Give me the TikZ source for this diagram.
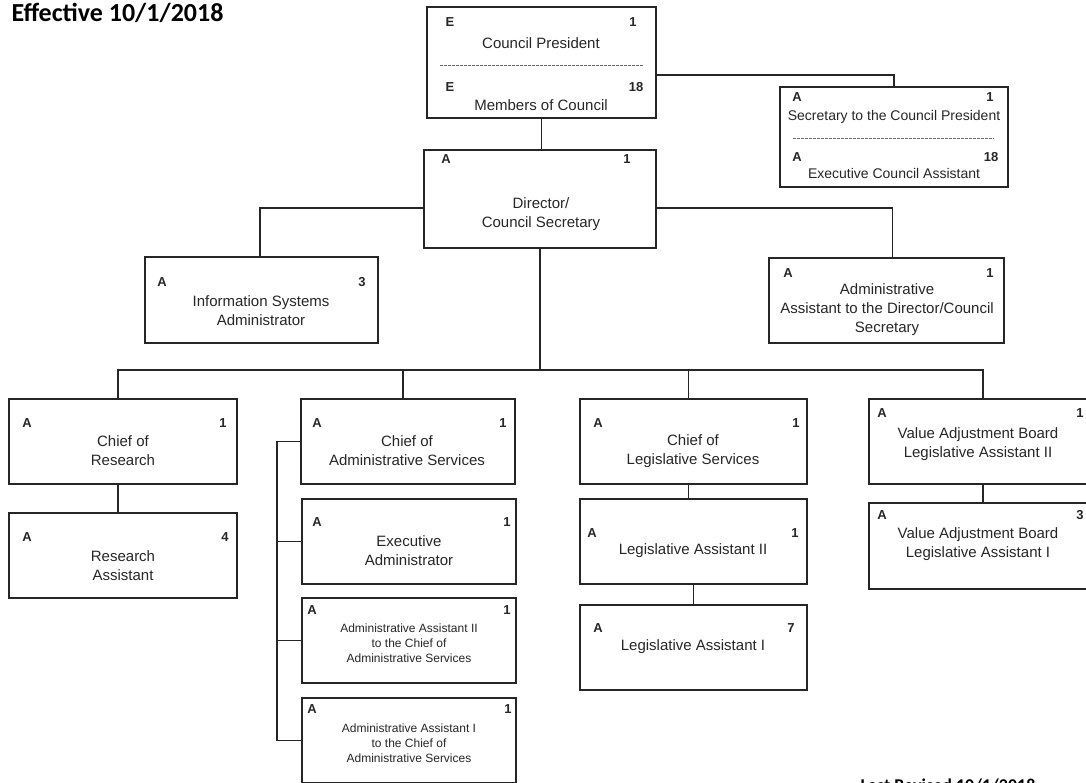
\documentclass[tikz,border=0pt]{standalone}
\usepackage{fontspec}
\setmainfont{Liberation Sans}
\newfontfamily\headfont{Carlito}

\begin{document}
\begin{tikzpicture}[x=1pt,y=-1pt,
    post/.style={draw=black!85,line width=1.3pt,inner sep=0pt},
    grade/.style={font=\bfseries\fontsize{13}{13}\selectfont,text=black!85,inner sep=0pt},
    title/.style={align=center,font=\fontsize{15}{19}\selectfont,text=black!85,inner sep=0pt},
    small/.style={align=center,font=\fontsize{12}{15}\selectfont,text=black!85,inner sep=0pt},
    link/.style={draw=black!85,line width=1.2pt},
    rule/.style={draw=black!60,line width=0.8pt,dash pattern=on 3pt off 1pt}]

    \useasboundingbox (0,0) rectangle (1086,783);

    \node[anchor=base west,font=\headfont\bfseries\fontsize{26}{26}\selectfont] (eff) at (8,22) {Effective 10/1/2018};
    \node[anchor=base west,font=\headfont\bfseries\fontsize{18}{18}\selectfont] (rev) at (857,791) {Last Revised 10/1/2018};

    % council
    \node[post,minimum width=229pt,minimum height=111pt] (pres) at (541.5,62.5) {};
    \node[grade] (pres-g) at (450,22) {E};
    \node[grade] (pres-n) at (633,22) {1};
    \node[title] (pres-t) at (541,43) {Council President};
    \draw[rule] (440,65) -- (643,65);
    \node[grade] (mem-g) at (450,87) {E};
    \node[grade] (mem-n) at (636,87) {18};
    \node[title] (mem-t) at (541,105) {Members of Council};

    \node[post,minimum width=228pt,minimum height=100pt] (sec) at (894,137) {};
    \node[grade] (sec-g) at (797,97) {A};
    \node[grade] (sec-n) at (990,97) {1};
    \node[title,font=\fontsize{14}{17}\selectfont] (sec-t) at (894,117) {Secretary to the Council President};
    \draw[rule] (793,138) -- (994,138);
    \node[grade] (eca-g) at (797,157) {A};
    \node[grade] (eca-n) at (991,157) {18};
    \node[title,font=\fontsize{14}{17}\selectfont] (eca-t) at (894,173) {Executive Council Assistant};

    % director
    \node[post,minimum width=232pt,minimum height=98pt] (dir) at (540,199) {};
    \node[grade] (dir-g) at (446,159) {A};
    \node[grade] (dir-n) at (627,159) {1};
    \node[title] (dir-t) at (541,214) {Director/\\Council Secretary};

    \node[post,minimum width=233pt,minimum height=86pt] (isa) at (261.5,300) {};
    \node[grade] (isa-g) at (162,282) {A};
    \node[grade] (isa-n) at (362,282) {3};
    \node[title] (isa-t) at (261,311) {Information Systems\\Administrator};

    \node[post,minimum width=235pt,minimum height=85pt] (aad) at (886.5,300.5) {};
    \node[grade] (aad-g) at (788,273) {A};
    \node[grade] (aad-n) at (990,273) {1};
    \node[title] (aad-t) at (887,310) {Administrative\\Assistant to the Director/Council\\Secretary};

    % research
    \node[post,minimum width=228pt,minimum height=85pt] (cor) at (123,441.5) {};
    \node[grade] (cor-g) at (27,423) {A};
    \node[grade] (cor-n) at (223,423) {1};
    \node[title] (cor-t) at (123,451) {Chief of\\Research};

    \node[post,minimum width=228pt,minimum height=85pt] (ra) at (123,555.5) {};
    \node[grade] (ra-g) at (27,537) {A};
    \node[grade] (ra-n) at (225,537) {4};
    \node[title] (ra-t) at (123,566) {Research\\Assistant};

    % administrative services
    \node[post,minimum width=214pt,minimum height=85pt] (cas) at (408,441.5) {};
    \node[grade] (cas-g) at (317,423) {A};
    \node[grade] (cas-n) at (503,423) {1};
    \node[title] (cas-t) at (407,451) {Chief of\\Administrative Services};

    \node[post,minimum width=214pt,minimum height=85pt] (ea) at (409,541.5) {};
    \node[grade] (ea-g) at (317,522) {A};
    \node[grade] (ea-n) at (507,522) {1};
    \node[title] (ea-t) at (409,551) {Executive\\Administrator};

    \node[post,minimum width=214pt,minimum height=85pt] (aa2) at (409,640.5) {};
    \node[grade] (aa2-g) at (312,610) {A};
    \node[grade] (aa2-n) at (507,610) {1};
    \node[small] (aa2-t) at (409,643) {Administrative Assistant II\\to the Chief of\\Administrative Services};

    \node[post,minimum width=214pt,minimum height=85pt] (aa1) at (409,740.5) {};
    \node[grade] (aa1-g) at (312,709) {A};
    \node[grade] (aa1-n) at (508,709) {1};
    \node[small] (aa1-t) at (409,743) {Administrative Assistant I\\to the Chief of\\Administrative Services};

    % legislative services
    \node[post,minimum width=227pt,minimum height=85pt] (cls) at (693.5,441.5) {};
    \node[grade] (cls-g) at (598,423) {A};
    \node[grade] (cls-n) at (796,423) {1};
    \node[title] (cls-t) at (693,451) {Chief of\\Legislative Services};

    \node[post,minimum width=227pt,minimum height=85pt] (la2) at (693.5,541.5) {};
    \node[grade] (la2-g) at (592,533) {A};
    \node[grade] (la2-n) at (795,533) {1};
    \node[title] (la2-t) at (693,551) {Legislative Assistant II};

    \node[post,minimum width=227pt,minimum height=85pt] (la1) at (693.5,647.5) {};
    \node[grade] (la1-g) at (598,628) {A};
    \node[grade] (la1-n) at (791,628) {7};
    \node[title] (la1-t) at (693,647) {Legislative Assistant I};

    % value adjustment board
    \node[post,minimum width=221pt,minimum height=85pt] (vab2) at (979.5,441.5) {};
    \node[grade] (vab2-g) at (882,413) {A};
    \node[grade] (vab2-n) at (1080,413) {1};
    \node[title] (vab2-t) at (978,444) {Value Adjustment Board\\Legislative Assistant II};

    \node[post,minimum width=221pt,minimum height=86pt] (vab1) at (979.5,546) {};
    \node[grade] (vab1-g) at (882,515) {A};
    \node[grade] (vab1-n) at (1080,515) {3};
    \node[title] (vab1-t) at (978,544) {Value Adjustment Board\\Legislative Assistant I};

    % lines
    \draw[link] (pres.south) -- (pres.south |- dir.north);
    \draw[link] ([yshift=-12.5pt]pres.east) -| (sec.north);
    \draw[link] ([yshift=-9pt]dir.west) -| ([xshift=-1.5pt]isa.north);
    \draw[link] ([yshift=-9pt]dir.east) -| ([xshift=6pt]aad.north);

    \coordinate (bus) at (540,370);
    \draw[link] (dir.south) -- (bus);
    \draw[link] ([xshift=-5pt]cor.north) |- (bus) -| ([xshift=3.5pt]vab2.north);
    \draw[link] ([xshift=-5pt]cas.north) -- ([xshift=-5pt]cas.north |- bus);
    \draw[link] ([xshift=-5pt]cls.north) -- ([xshift=-5pt]cls.north |- bus);

    \draw[link] ([xshift=-5pt]cor.south) -- ([xshift=-5pt]ra.north);
    \draw[link] ([xshift=-5pt]cls.south) -- ([xshift=-5pt]la2.north);
    \draw[link] (la2.south) -- (la1.north);
    \draw[link] ([xshift=3.5pt]vab2.south) -- ([xshift=3.5pt]vab1.north);

    \coordinate (spine) at (277,442);
    \draw[link] (cas.west) -- (cas.west -| spine) -- (aa1.west -| spine) -- (aa1.west);
    \draw[link] (ea.west) -- (ea.west -| spine);
    \draw[link] (aa2.west) -- (aa2.west -| spine);
\end{tikzpicture}
\end{document}
